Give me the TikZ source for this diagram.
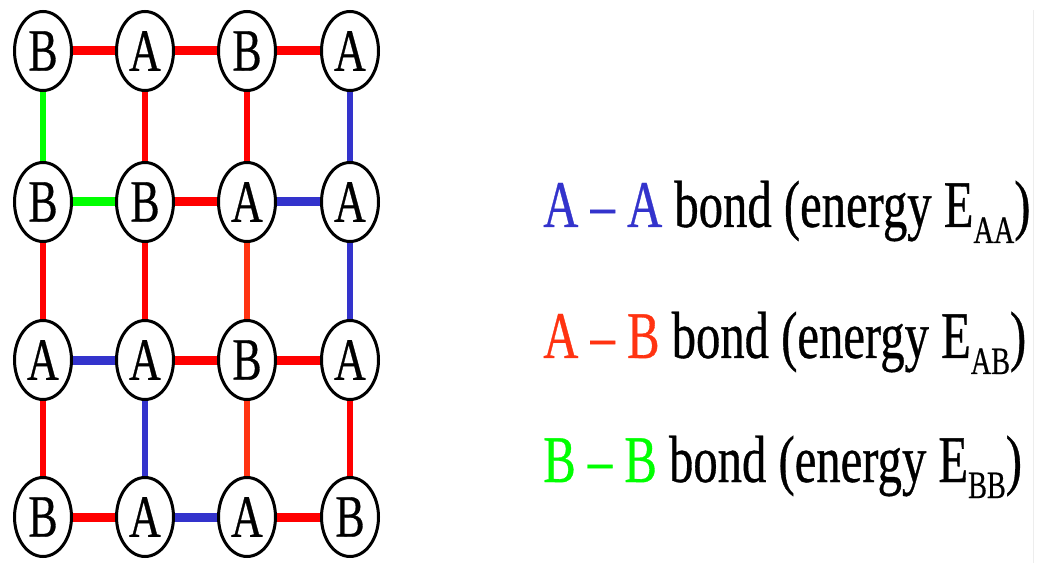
\documentclass[tikz,border=0pt]{standalone}
\usepackage{fontspec}
\setmainfont[FakeStretch=0.73, FakeBold=0.5]{Liberation Serif}
\usetikzlibrary{shapes.geometric}

\definecolor{bondred}{HTML}{FF0000}
\definecolor{bondorange}{HTML}{FF3311}
\definecolor{bondblue}{HTML}{3333CC}
\definecolor{bondgreen}{HTML}{00FF00}

% lowered subscript, as in E_AA
\newcommand{\esub}[1]{\raisebox{-12pt}{\fontsize{29}{31}\selectfont #1}}

\begin{document}
\begin{tikzpicture}[x=0.75pt, y=-0.75pt,
  atom/.style={ellipse, draw=black, line width=2.25pt, fill=white,
               minimum width=42.75pt, minimum height=59.25pt, inner sep=0pt,
               font=\fontsize{45}{50}\selectfont},
  hb/.style={line width=6.75pt},
  vb/.style={line width=4.9pt},
  legend/.style={anchor=base west, inner sep=0pt,
                 font=\fontsize{50}{56}\selectfont},
]
\useasboundingbox (0,0) rectangle (1040,563);

% Atoms -- x positions: 43 145 247 350
\node[atom] (B11) at ( 43, 51) {B};
\node[atom] (A12) at (145, 51) {A};
\node[atom] (B13) at (247, 51) {B};
\node[atom] (A14) at (350, 51) {A};

\node[atom] (B21) at ( 43,202) {B};
\node[atom] (B22) at (145,202) {B};
\node[atom] (A23) at (247,202) {A};
\node[atom] (A24) at (350,202) {A};

\node[atom] (A31) at ( 43,360) {A};
\node[atom] (A32) at (145,360) {A};
\node[atom] (B33) at (247,360) {B};
\node[atom] (A34) at (350,360) {A};

\node[atom] (B41) at ( 43,517) {B};
\node[atom] (A42) at (145,517) {A};
\node[atom] (A43) at (247,517) {A};
\node[atom] (B44) at (350,517) {B};

% Row bonds
\draw[hb, bondred]   (B11.east)--(A12.west);
\draw[hb, bondred]   (A12.east)--(B13.west);
\draw[hb, bondred]   (B13.east)--(A14.west);

\draw[hb, bondgreen] (B21.east)--(B22.west);
\draw[hb, bondred]   (B22.east)--(A23.west);
\draw[hb, bondblue]  (A23.east)--(A24.west);

\draw[hb, bondblue]  (A31.east)--(A32.west);
\draw[hb, bondred]   (A32.east)--(B33.west);
\draw[hb, bondred]   (B33.east)--(A34.west);

\draw[hb, bondred]   (B41.east)--(A42.west);
\draw[hb, bondblue]  (A42.east)--(A43.west);
\draw[hb, bondred]   (A43.east)--(B44.west);

% Column bonds
\draw[vb, bondgreen]  (B11.south)--(B21.north);
\draw[vb, bondred]    (A12.south)--(B22.north);
\draw[vb, bondred]    (B13.south)--(A23.north);
\draw[vb, bondblue]   (A14.south)--(A24.north);

\draw[vb, bondred]    (B21.south)--(A31.north);
\draw[vb, bondred]    (B22.south)--(A32.north);
\draw[vb, bondorange] (A23.south)--(B33.north);
\draw[vb, bondblue]   (A24.south)--(A34.north);

\draw[vb, bondred]    (A31.south)--(B41.north);
\draw[vb, bondblue]   (A32.south)--(A42.north);
\draw[vb, bondorange] (B33.south)--(A43.north);
\draw[vb, bondred]    (A34.south)--(B44.north);

% Legend
\node[legend] (LAA) at (543,227) {{\color{bondblue}A -- A} bond (energy E\esub{AA})};
\node[legend] (LAB) at (543,358) {{\color{bondorange}A -- B} bond (energy E\esub{AB})};
\node[legend] (LBB) at (543,482) {{\color{bondgreen}B -- B} bond (energy E\esub{BB})};

% faint frame edge
\draw[black!7, line width=0.75pt] (1033,10) -- (1033,563);

\end{tikzpicture}
\end{document}
